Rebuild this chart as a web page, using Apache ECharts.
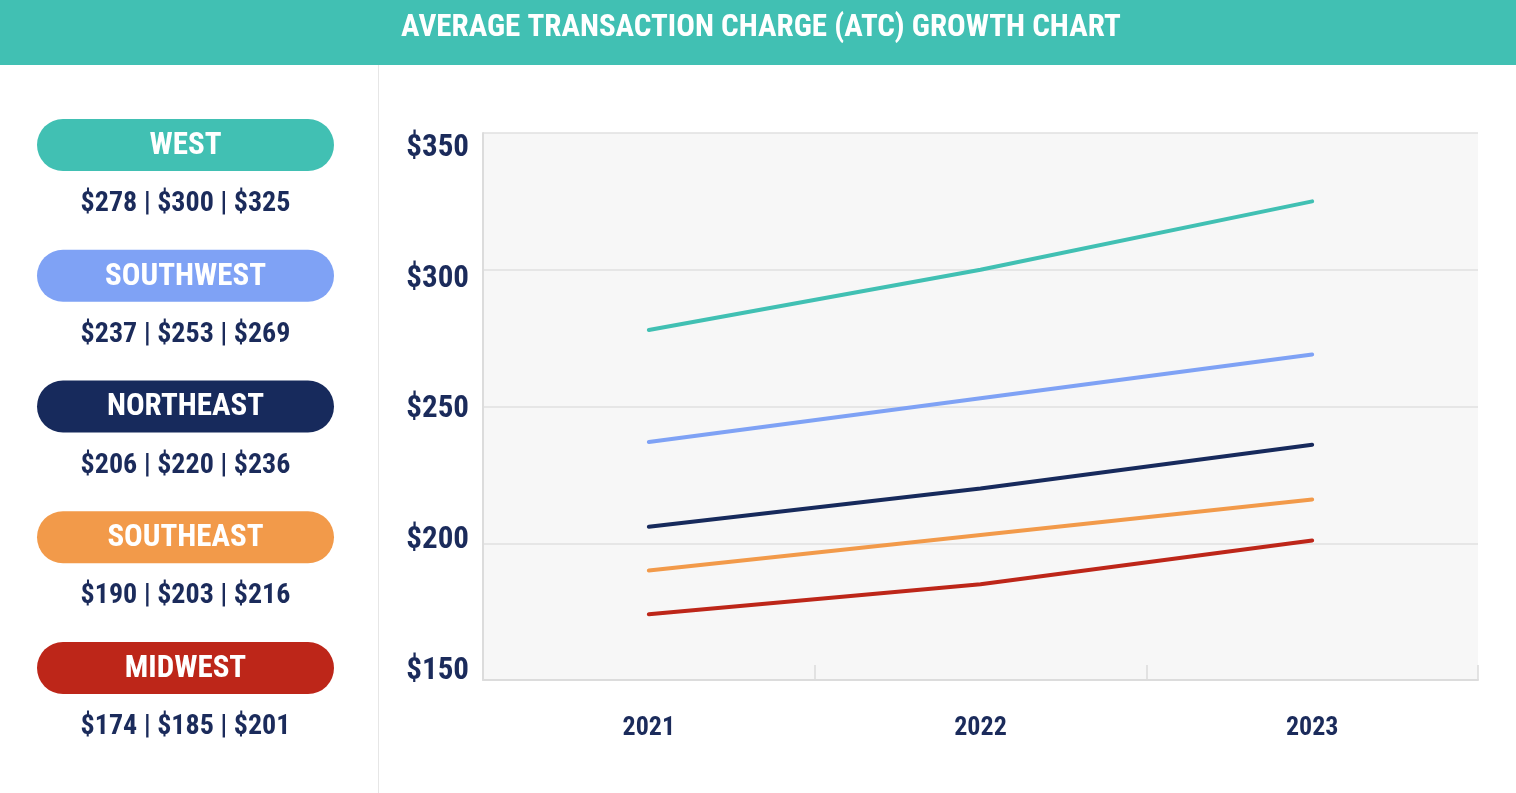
<!DOCTYPE html>
<html><head><meta charset="utf-8">
<script src="https://cdn.jsdelivr.net/npm/echarts@6/dist/echarts.min.js"></script>
<style>html,body{margin:0;padding:0;background:#fff}#c{width:1516px;height:793px}</style>
</head><body><div id="c"></div>
<script>
const title = 'AVERAGE TRANSACTION CHARGE (ATC) GROWTH CHART';
const years = ['2021', '2022', '2023'];
const regions = ['WEST', 'SOUTHWEST', 'NORTHEAST', 'SOUTHEAST', 'MIDWEST'];
const west = [278, 300, 325];
const southwest = [237, 253, 269];
const northeast = [206, 220, 236];
const southeast = [190, 203, 216];
const midwest = [174, 185, 201];
const yMin = 150, yMax = 350, yStep = 50;

const seriesData = [west, southwest, northeast, southeast, midwest];
const palette = ['#41c0b3', '#7fa2f5', '#172a5c', '#f29a4a', '#bd2619'];
const FONT = '"Roboto Condensed", "Open Sans Condensed", sans-serif';
const NAVY = '#1b2b5b';

const chart = echarts.init(document.getElementById('c'), null, {renderer: 'canvas'});

const graphics = [
  {type: 'rect', shape: {x: 0, y: 0, width: 1516, height: 65}, style: {fill: '#41c0b3'}, silent: true, z: 0},
  {type: 'text', x: 761, y: 28, style: {text: title, fill: '#fff', font: 'bold 31px ' + FONT, align: 'center', verticalAlign: 'middle'}, z: 1},
  {type: 'line', shape: {x1: 378.5, y1: 65, x2: 378.5, y2: 793}, style: {stroke: '#e6e6e6', lineWidth: 1}, z: 0}
];
const STEP = 130.75;
regions.forEach((r, i) => {
  const cy = 145 + i * STEP;
  graphics.push({type: 'rect', shape: {x: 37, y: cy - 26, width: 297, height: 52, r: 26}, style: {fill: palette[i]}, z: 1});
  graphics.push({type: 'text', x: 185.5, y: cy + 1, style: {text: r, fill: '#fff', font: 'bold 31px ' + FONT, align: 'center', verticalAlign: 'middle'}, z: 2});
  graphics.push({type: 'text', x: 185.5, y: cy + 59, style: {text: seriesData[i].map(v => '$' + v).join(' | '), fill: NAVY, font: 'bold 28px ' + FONT, align: 'center', verticalAlign: 'middle'}, z: 2});
});

const labelShift = {350: [30, 0, 0, 0], 300: [18, 0, 0, 0], 250: [6, 0, 0, 0], 200: [0, 0, 6, 0], 150: [0, 0, 18, 0]};
const rich = {};
Object.keys(labelShift).forEach(k => {
  rich['v' + k] = {padding: labelShift[k], fontSize: 31, fontWeight: 'bold', fontFamily: FONT, color: NAVY};
});

chart.setOption({
  animation: false,
  backgroundColor: '#fff',
  graphic: graphics,
  grid: {left: 483, top: 133, right: 38, bottom: 113, show: true, backgroundColor: '#f7f7f7', borderWidth: 0},
  xAxis: {
    type: 'category', data: years, boundaryGap: true,
    axisLine: {show: true, lineStyle: {color: '#dcdcdc', width: 2}},
    axisTick: {show: true, inside: true, length: 15, alignWithLabel: false, lineStyle: {color: '#dcdcdc', width: 1.5}},
    axisLabel: {color: NAVY, fontSize: 26, fontWeight: 'bold', fontFamily: FONT, margin: 35},
    splitLine: {show: false}
  },
  yAxis: {
    type: 'value', min: yMin, max: yMax, interval: yStep,
    axisLine: {show: true, lineStyle: {color: '#dcdcdc', width: 2}},
    axisTick: {show: false},
    splitLine: {show: true, lineStyle: {color: '#e0e0e0', width: 1.5}},
    axisLabel: {margin: 14, formatter: v => '{v' + v + '|$' + v + '}', rich: rich}
  },
  series: regions.map((r, i) => ({
    name: r, type: 'line', data: seriesData[i], showSymbol: false, symbol: 'none',
    lineStyle: {color: palette[i], width: 4, cap: 'round'}, itemStyle: {color: palette[i]}, z: 3
  }))
});
</script></body></html>
